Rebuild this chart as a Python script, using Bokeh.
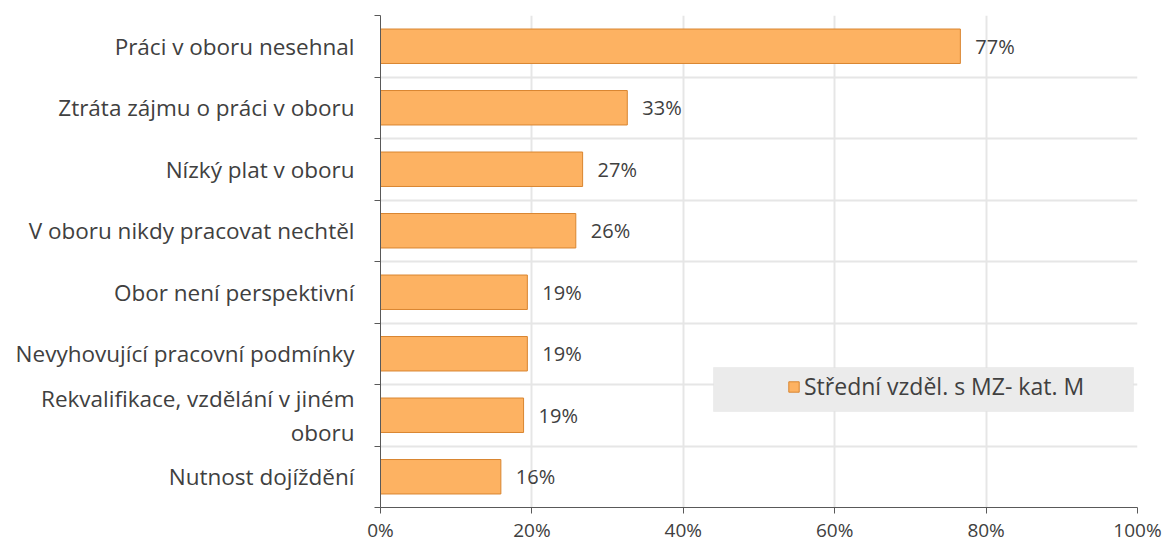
from bokeh.plotting import figure
from bokeh.models import (Range1d, FixedTicker, PrintfTickFormatter, ColumnDataSource,
                          Legend, LegendItem, BoxAnnotation)
from bokeh.core.properties import value
from bokeh.embed import file_html
from bokeh.resources import INLINE

categories = [
    "Práci v oboru nesehnal",
    "Ztráta zájmu o práci v oboru",
    "Nízký plat v oboru",
    "V oboru nikdy pracovat nechtěl",
    "Obor není perspektivní",
    "Nevyhovující pracovní podmínky",
    "Rekvalifikace, vzdělání v jiném\noboru",
    "Nutnost dojíždění",
]
values = [76.6, 32.6, 26.7, 25.8, 19.4, 19.4, 18.9, 15.9]
value_labels = ["77%", "33%", "27%", "26%", "19%", "19%", "19%", "16%"]
series_name = "Střední vzděl. s MZ- kat. M"
x_ticks = [0, 20, 40, 60, 80, 100]

FONT = "Open Sans"
TXT = "#404040"
FILL = "#FDB262"
EDGE = "#D98530"

n = len(categories)
centers = [i + 0.5 for i in range(n)]
bounds = list(range(n + 1))

src = ColumnDataSource(dict(y=centers, v=values, lab=value_labels))

p = figure(frame_width=757, frame_height=492, min_border_left=380, min_border_top=15,
           min_border_right=27, min_border_bottom=30,
           x_range=Range1d(0, 100), y_range=Range1d(n, 0),
           output_backend="svg", toolbar_location=None)
p.outline_line_color = None

r = p.hbar(y="y", right="v", left=0, height=0.56, source=src,
           fill_color=FILL, line_color=EDGE, line_width=1)

p.text(x="v", y="y", text="lab", source=src, x_offset=15, text_baseline="middle",
       text_font=value(FONT), text_font_size="20px", text_color=TXT)

# axes
p.yaxis.ticker = FixedTicker(ticks=centers, minor_ticks=bounds)
p.yaxis.major_label_overrides = {c: lab for c, lab in zip(centers, categories)}
p.yaxis.major_tick_out = 0
p.yaxis.major_tick_in = 0
p.yaxis.minor_tick_out = 6
p.yaxis.minor_tick_in = 0
p.yaxis.minor_tick_line_color = "#595959"
p.yaxis.axis_line_color = "#595959"
p.yaxis.major_label_text_font = FONT
p.yaxis.major_label_text_font_size = "22.5px"
p.yaxis.major_label_text_color = TXT
p.yaxis.major_label_text_line_height = 1.1
p.yaxis.major_label_standoff = 20

p.xaxis.ticker = FixedTicker(ticks=x_ticks)
p.xaxis.formatter = PrintfTickFormatter(format="%d%%")
p.xaxis.major_tick_out = 6
p.xaxis.major_tick_in = 0
p.xaxis.minor_tick_line_color = None
p.xaxis.major_tick_line_color = "#595959"
p.xaxis.axis_line_color = "#595959"
p.xaxis.major_label_text_font = FONT
p.xaxis.major_label_text_font_size = "19px"
p.xaxis.major_label_text_color = TXT
p.xaxis.major_label_standoff = 3

p.xgrid.ticker = FixedTicker(ticks=x_ticks)
p.ygrid.ticker = FixedTicker(ticks=bounds)
p.xgrid.grid_line_color = "#E6E6E6"
p.ygrid.grid_line_color = "#E6E6E6"
p.xgrid.grid_line_width = 2
p.ygrid.grid_line_width = 2

# legend background box (screen units, from frame left / frame bottom)
box = BoxAnnotation(left=333, right=753, top=140, bottom=96,
                    left_units="screen", right_units="screen",
                    top_units="screen", bottom_units="screen",
                    fill_color="#EBEBEB", fill_alpha=1.0,
                    line_color="#D9D9D9", line_width=1, level="overlay")
p.add_layout(box)

legend = Legend(items=[LegendItem(label=series_name, renderers=[r])],
                location=(407, 105), background_fill_alpha=0, border_line_color=None,
                padding=0, margin=0, glyph_width=13, glyph_height=13, label_standoff=4,
                label_text_font=FONT, label_text_font_size="23px", label_text_color=TXT,
                level="overlay")
p.add_layout(legend)

open("out.html", "w").write(file_html(p, INLINE))
